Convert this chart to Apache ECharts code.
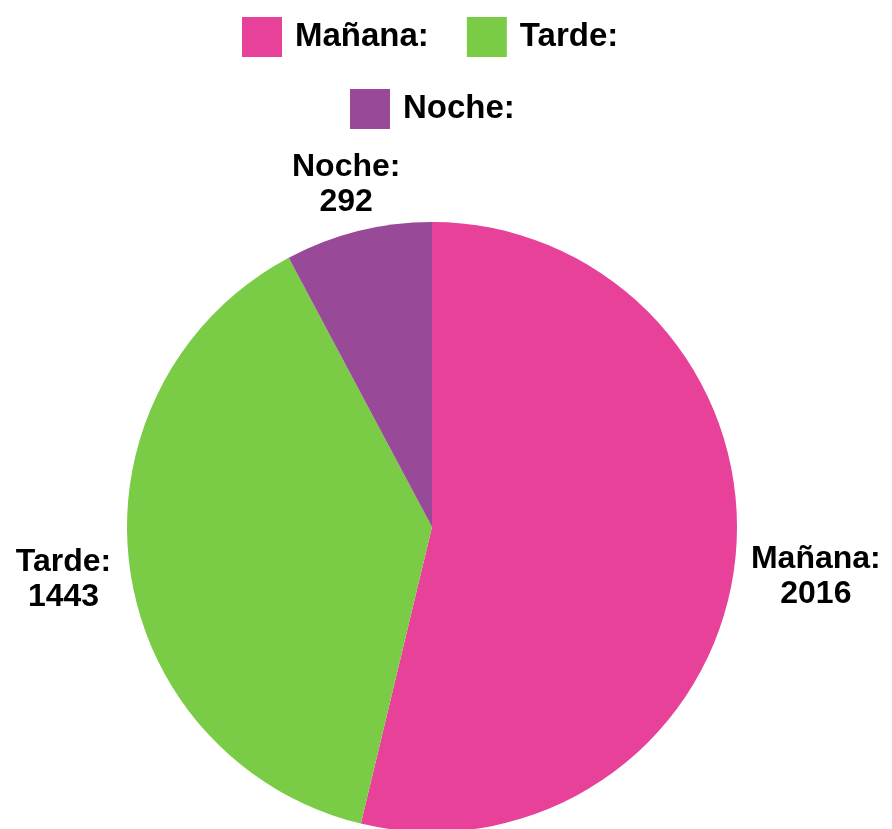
<!DOCTYPE html>
<html>
<head>
<meta charset="utf-8">
<script src="https://cdn.jsdelivr.net/npm/echarts@6/dist/echarts.min.js"></script>
<style>
  html, body { margin: 0; padding: 0; background: #fff; }
  #chart { width: 892px; height: 829px; }
</style>
</head>
<body>
<div id="chart"></div>
<script>
// datos del turno
var categories = ['Mañana:', 'Tarde:', 'Noche:'];
var values = [2016, 1443, 292];
var colors = ['#E8419A', '#7ACB45', '#984A98'];
var labelWidths = [132, 98, 108];
// ajuste fino de etiquetas
var labelShift = [[2, 13], [-4, 13], [49, -39]];

var FONT = '"Liberation Sans", Arial, sans-serif';

var myChart = echarts.init(document.getElementById('chart'));

var pieData = [];
for (var i = 0; i < categories.length; i++) {
    pieData.push({
        name: categories[i],
        value: values[i],
        itemStyle: { color: colors[i] },
        label: {
            rich: {
                t: { width: labelWidths[i], align: 'center', fontSize: 32, fontWeight: 'bold', color: '#000', fontFamily: FONT, lineHeight: 35 }
            }
        }
    });
}

var legendText = { fontSize: 33, fontWeight: 'bold', color: '#000', fontFamily: FONT, lineHeight: 40, padding: [0, 0, 0, 8] };

myChart.setOption({
    animation: false,
    legend: [{
        top: 12,
        left: 237,
        itemWidth: 40,
        itemHeight: 40,
        itemGap: 38,
        icon: 'rect',
        textStyle: legendText,
        data: [categories[0], categories[1]]
    }, {
        top: 84,
        left: 345,
        itemWidth: 40,
        itemHeight: 40,
        icon: 'rect',
        textStyle: legendText,
        data: [categories[2]]
    }],
    series: [{
        type: 'pie',
        center: [432, 527],
        radius: 305,
        startAngle: 90,
        clockwise: true,
        label: {
            show: true,
            position: 'outside',
            formatter: '{t|{b}}\n{t|{c}}'
        },
        labelLine: { show: false, length: 8, length2: 0 },
        labelLayout: function (params) {
            var s = labelShift[params.dataIndex];
            return { dx: s[0], dy: s[1] };
        },
        emphasis: { disabled: true },
        data: pieData
    }]
});
</script>
</body>
</html>
